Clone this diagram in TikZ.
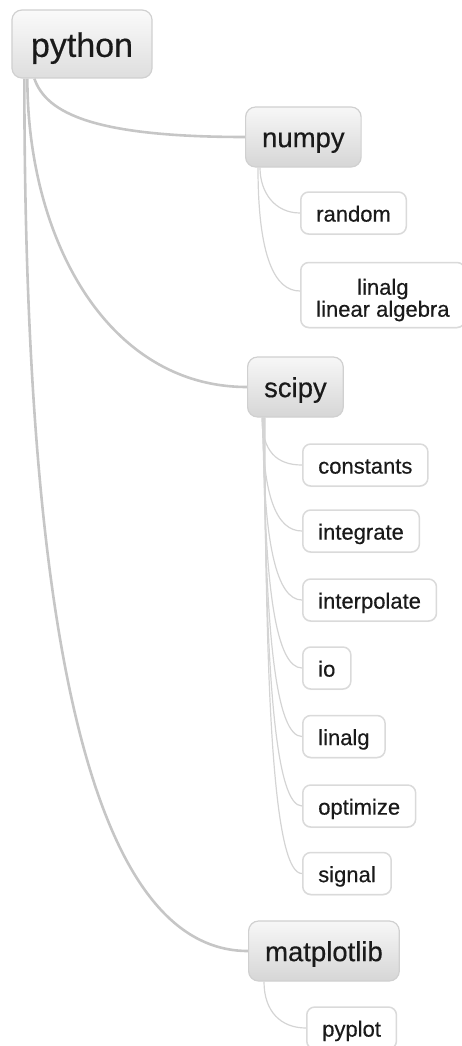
\documentclass[tikz,border=0pt]{standalone}
\usepackage{fontspec}
\setmainfont{Liberation Sans}[FakeBold=0.4]
\usetikzlibrary{calc,backgrounds,shadows}
\definecolor{txt}{HTML}{1A1A1A}
\definecolor{gtop}{HTML}{F7F7F7}
\definecolor{gbot}{HTML}{D6D6D6}
\definecolor{rtop}{HTML}{FAFAFA}
\definecolor{rbot}{HTML}{DEDEDE}
\definecolor{grpline}{HTML}{D0D0D0}
\definecolor{leafline}{HTML}{DADADA}
\definecolor{mlink}{HTML}{C6C6C6}
\definecolor{llink}{HTML}{D4D4D4}
\tikzset{
  grp/.style={draw=grpline, line width=1.2pt, rounded corners=10pt,
    top color=gtop, bottom color=gbot, inner xsep=16.5pt, inner ysep=0pt,
    minimum height=60pt, font=\fontsize{27.5}{30}\selectfont, text=txt,
    text height=24.2pt, text depth=3.9pt},
  root/.style={grp, top color=rtop, bottom color=rbot, inner xsep=19pt,
    minimum height=68pt, font=\fontsize{34}{38}\selectfont,
    text height=30.6pt, text depth=4.8pt},
  leaf/.style={draw=leafline, line width=1.5pt, rounded corners=8pt, fill=white,
    inner xsep=15.5pt, inner ysep=0pt, minimum height=42pt,
    font=\fontsize{22}{24}\selectfont, text=txt, anchor=west,
    text height=19.8pt, text depth=2.6pt,
    drop shadow={shadow xshift=0pt, shadow yshift=-1pt, opacity=0.10}},
  mainlink/.style={draw=mlink, line width=2.6pt},
  leaflink/.style={draw=llink, line width=1.2pt},
}
\begin{document}
\begin{tikzpicture}[x=1pt,y=-1pt]
\useasboundingbox (0,0) rectangle (462,1046);
% group nodes
\node[root] (py) at (82,44) {python};
\node[grp, anchor=west] (numpy) at (245,137) {numpy};
\node[grp, anchor=west] (scipy) at (247,387) {scipy};
\node[grp, anchor=west] (mpl) at (248,951) {matplotlib};
% leaves
\node[leaf, align=center, text height={}, text depth={}, minimum height=65pt,
  font=\fontsize{22}{22}\selectfont] (nlinalg) at (300,295) {\rule{0pt}{26pt}linalg\\linear algebra};
\node[leaf] (random) at (300,213) {random};
\node[leaf] (constants) at (302,465) {constants};
\node[leaf] (integrate) at (302,531) {integrate};
\node[leaf] (interpolate) at (302,600) {interpolate};
\node[leaf] (io) at (302,668) {io};
\node[leaf] (slinalg) at (302,736.5) {linalg};
\node[leaf] (optimize) at (302,806) {optimize};
\node[leaf] (signal) at (302,873.5) {signal};
\node[leaf] (pyplot) at (306,1028) {pyplot};
\begin{pgfonlayer}{background}
% main links
\draw[mainlink] ($(py.south west)+(23,0)$) .. controls +(12,35) and +(-150,0) .. (numpy.west);
\draw[mainlink] ($(py.south west)+(16,0)$) .. controls +(0,160) and +(-140,0) .. (scipy.west);
\draw[mainlink] ($(py.south west)+(13,0)$) .. controls +(0,500) and +(-170,0) .. (mpl.west);
% numpy children
\draw[leaflink] ($(numpy.south west)+(15,0)$) .. controls +(0,25) and +(-25,0) .. (random.west);
\draw[leaflink] ($(numpy.south west)+(13,0)$) .. controls +(0,90) and +(-25,0) .. ($(nlinalg.west)+(0,-4)$);
% scipy children
\draw[leaflink] ($(scipy.south west)+(15,0)$) .. controls +(0,34) and +(-25,0) .. (constants.west);
\draw[leaflink] ($(scipy.south west)+(15.5,0)$) .. controls +(0,80) and +(-25,0) .. (integrate.west);
\draw[leaflink] ($(scipy.south west)+(16,0)$) .. controls +(0,128) and +(-25,0) .. (interpolate.west);
\draw[leaflink] ($(scipy.south west)+(16.5,0)$) .. controls +(0,176) and +(-25,0) .. (io.west);
\draw[leaflink] ($(scipy.south west)+(17,0)$) .. controls +(0,224) and +(-25,0) .. (slinalg.west);
\draw[leaflink] ($(scipy.south west)+(17.5,0)$) .. controls +(0,272) and +(-25,0) .. (optimize.west);
\draw[leaflink] ($(scipy.south west)+(18,0)$) .. controls +(0,320) and +(-25,0) .. (signal.west);
% matplotlib child
\draw[leaflink] ($(mpl.south west)+(16,0)$) .. controls +(0,30) and +(-25,0) .. (pyplot.west);
\end{pgfonlayer}
\end{tikzpicture}
\end{document}
